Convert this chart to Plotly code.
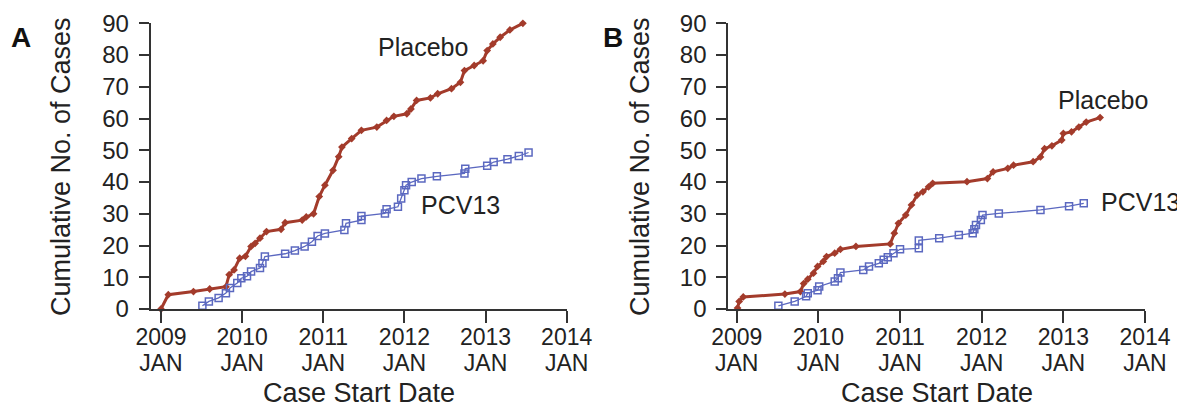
import plotly.graph_objects as go

# ---------------- data (decimal years, cumulative cases) ----------------
a_placebo_year = [2009.00, 2009.09, 2009.40, 2009.60, 2009.80, 2009.84, 2009.90, 2009.97,
                  2010.04, 2010.11, 2010.16, 2010.22, 2010.30, 2010.48, 2010.53, 2010.74,
                  2010.79, 2010.88, 2010.95, 2011.02, 2011.12, 2011.19, 2011.23, 2011.35,
                  2011.47, 2011.66, 2011.78, 2011.87, 2012.03, 2012.08, 2012.15, 2012.32,
                  2012.41, 2012.58, 2012.69, 2012.74, 2012.86, 2012.97, 2013.02, 2013.09,
                  2013.18, 2013.30, 2013.46]
a_placebo_cases = [0, 4.5, 5.5, 6.3, 7, 10.8, 12.3, 16, 16.6, 19.7, 20.7, 22.3, 24.4, 25.1,
                   27.2, 28, 29, 30, 35.4, 39, 43.7, 48, 51, 53.7, 56.3, 57.3, 59.4, 60.7,
                   61.5, 63, 65.7, 66.5, 67.8, 69.4, 71.4, 75.1, 76.7, 78.2, 81.4, 83.5,
                   85.6, 87.9, 90]

a_pcv_year = [2009.51, 2009.59, 2009.71, 2009.80, 2009.85, 2009.94, 2009.99, 2010.06,
              2010.11, 2010.22, 2010.25, 2010.28, 2010.53, 2010.65, 2010.77, 2010.86,
              2010.93, 2011.02, 2011.26, 2011.28, 2011.47, 2011.47, 2011.76, 2011.78,
              2011.92, 2011.96, 2012.00, 2012.02, 2012.09, 2012.21, 2012.40, 2012.74,
              2012.75, 2013.02, 2013.10, 2013.27, 2013.41, 2013.53]
a_pcv_cases = [1, 2.4, 3.5, 5, 6.6, 8.2, 9.7, 10.3, 11.8, 12.9, 14.4, 16.5, 17.4, 18.4,
               19.7, 21.2, 23, 23.8, 24.9, 27, 28, 29.3, 30.1, 31.4, 32.2, 34.8, 37.4,
               39, 40, 41.1, 41.8, 42.7, 44.2, 45.1, 46.3, 47.2, 48.2, 49.3]

b_placebo_year = [2009.01, 2009.03, 2009.08, 2009.59, 2009.78, 2009.82, 2009.87, 2009.94,
                  2009.99, 2010.06, 2010.10, 2010.20, 2010.27, 2010.46, 2010.88, 2010.93,
                  2010.98, 2011.07, 2011.14, 2011.21, 2011.28, 2011.35, 2011.40, 2011.82,
                  2012.07, 2012.14, 2012.32, 2012.39, 2012.63, 2012.72, 2012.77, 2012.86,
                  2012.98, 2013.00, 2013.10, 2013.19, 2013.28, 2013.45]
b_placebo_cases = [0.3, 2.4, 3.8, 4.7, 5.5, 8, 9.4, 11.3, 13.4, 15, 16.5, 17.6, 18.8, 19.7,
                   20.5, 23.9, 27, 29.6, 32.8, 35.9, 36.9, 38.5, 39.6, 40.1, 41.1, 43.2,
                   44.3, 45.3, 46.4, 47.9, 50.5, 51.4, 53.2, 55.3, 55.8, 57.3, 58.9, 60.3]

b_pcv_year = [2009.51, 2009.71, 2009.85, 2009.87, 2009.99, 2010.01, 2010.20, 2010.24,
              2010.27, 2010.55, 2010.62, 2010.74, 2010.80, 2010.85, 2010.92, 2011.00,
              2011.23, 2011.23, 2011.48, 2011.72, 2011.89, 2011.91, 2011.93, 2011.99,
              2012.01, 2012.21, 2012.72, 2013.07, 2013.25]
b_pcv_cases = [1, 2.4, 4, 5, 5.9, 7.1, 8.7, 9.7, 11.5, 12.3, 13.4, 14.4, 15.5, 16.3, 17.6,
               18.8, 19.1, 21.6, 22.3, 23.3, 23.9, 25.1, 26.5, 28, 29.6, 30.1, 31.2, 32.4,
               33.3]

year_ticks = [2009, 2010, 2011, 2012, 2013, 2014]
year_tick_text = ["2009", "2010", "2011", "2012", "2013", "2014"]
month_tick_text = ["JAN", "JAN", "JAN", "JAN", "JAN", "JAN"]
y_ticks = [0, 10, 20, 30, 40, 50, 60, 70, 80, 90]

# ---------------- styling ----------------
W, H = 1185, 408
OFF = 8  # page body margin of the browser
FONT = "Liberation Sans, Arial, sans-serif"
RED = "#a33b2b"
BLUE = "#5b68c0"
AX = "#333333"
TXT = "#222222"


def px(x):
    return (x - OFF) / W


def py(y):
    return (H - (y - OFF)) / H


fig = go.Figure()

for xs, ys, xa, ya in [(a_placebo_year, a_placebo_cases, "x", "y"),
                       (b_placebo_year, b_placebo_cases, "x2", "y2")]:
    fig.add_trace(go.Scatter(x=xs, y=ys, xaxis=xa, yaxis=ya, mode="lines+markers",
                             line=dict(color=RED, width=3),
                             marker=dict(symbol="diamond", size=6, color=RED),
                             cliponaxis=False, showlegend=False))

for xs, ys, xa, ya in [(a_pcv_year, a_pcv_cases, "x", "y"),
                       (b_pcv_year, b_pcv_cases, "x2", "y2")]:
    fig.add_trace(go.Scatter(x=xs, y=ys, xaxis=xa, yaxis=ya, mode="lines+markers",
                             line=dict(color=BLUE, width=1.3),
                             marker=dict(symbol="square-open", size=7, color=BLUE,
                                         line=dict(width=1.5, color=BLUE)),
                             cliponaxis=False, showlegend=False))

# invisible traces so the label-only overlay axes are drawn
for xa, ya in [("x3", "y"), ("x4", "y2"), ("x5", "y"), ("x6", "y2")]:
    fig.add_trace(go.Scatter(x=[year_ticks[0]], y=[0], xaxis=xa, yaxis=ya, mode="markers",
                             marker=dict(opacity=0), showlegend=False, hoverinfo="skip"))

ydom = [py(309), py(23.3)]
TICKFONT = dict(family=FONT, size=23, color=TXT)
xcommon = dict(tickmode="array", tickvals=year_ticks, showticklabels=False,
               showgrid=False, zeroline=False, showline=True, linecolor=AX, linewidth=2,
               ticks="outside", ticklen=12, tickwidth=2, tickcolor=AX, automargin=False)
xlab = dict(tickmode="array", tickvals=year_ticks,
            showgrid=False, zeroline=False, showline=False, ticks="",
            tickfont=TICKFONT, automargin=False, side="bottom")
ycommon = dict(range=[0, 90], tickmode="array", tickvals=y_ticks,
               showgrid=False, zeroline=False, showline=True, linecolor=AX, linewidth=2,
               ticks="outside", ticklen=10, tickwidth=2, tickcolor=AX,
               tickfont=dict(family=FONT, size=24, color=TXT),
               ticklabelstandoff=5, domain=ydom, automargin=False)

ra = [2008.873, 2014.0]
rb = [2008.897, 2014.0]
da = [px(150.7), px(566.7)]
db = [px(728.3), px(1145)]
fig.update_layout(
    width=W, height=H, margin=dict(l=0, r=0, t=0, b=0, pad=0),
    paper_bgcolor="white", plot_bgcolor="white",
    xaxis=dict(xcommon, domain=da, range=ra, anchor="y"),
    yaxis=dict(ycommon, anchor="x"),
    xaxis2=dict(xcommon, domain=db, range=rb, anchor="y2"),
    yaxis2=dict(ycommon, anchor="x2"),
    xaxis3=dict(xlab, ticktext=month_tick_text, ticklabelstandoff=38,
                range=ra, anchor="y", overlaying="x"),
    xaxis4=dict(xlab, ticktext=month_tick_text, ticklabelstandoff=38,
                range=rb, anchor="y2", overlaying="x2"),
    xaxis5=dict(xlab, ticktext=year_tick_text, ticklabelstandoff=12,
                range=ra, anchor="y", overlaying="x"),
    xaxis6=dict(xlab, ticktext=year_tick_text, ticklabelstandoff=12,
                range=rb, anchor="y2", overlaying="x2"),
)

ann = []


def text(x, y, s, size, angle=0, color=TXT):
    ann.append(dict(xref="paper", yref="paper", x=px(x), y=py(y), text=s,
                    showarrow=False, xanchor="center", yanchor="middle", textangle=angle,
                    font=dict(family=FONT, size=size, color=color)))


text(21, 38, "<b>A</b>", 28, color="#111")
text(613, 38, "<b>B</b>", 28, color="#111")
text(61, 167, "Cumulative No. of Cases", 27, angle=-90)
text(640, 167, "Cumulative No. of Cases", 27, angle=-90)
text(358.7, 393, "Case Start Date", 27)
text(936.6, 393, "Case Start Date", 27)
text(423, 47, "Placebo", 25)
text(460, 205, "PCV13", 25)
text(1103, 100, "Placebo", 25)
text(1140, 202, "PCV13", 25)

fig.update_layout(annotations=ann)
fig.write_html("out.html")
